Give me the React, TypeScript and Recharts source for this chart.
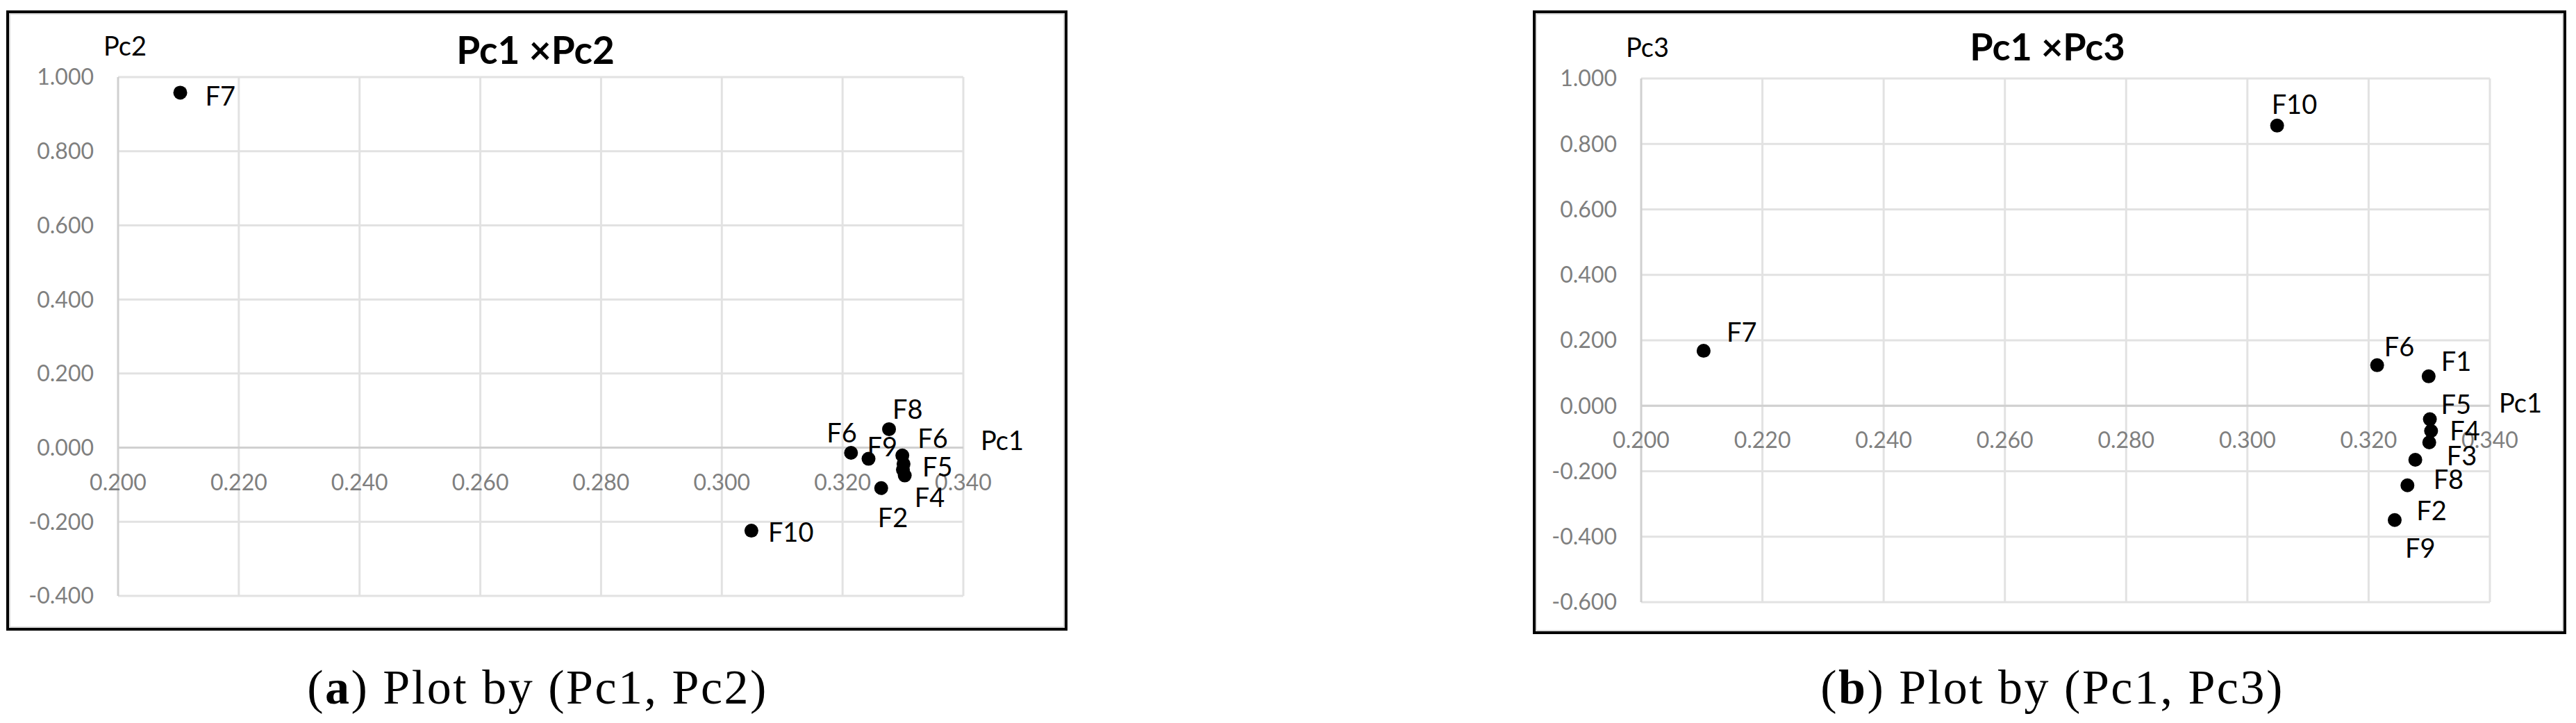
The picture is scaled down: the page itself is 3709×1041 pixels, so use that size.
import React from 'react';
import {
  ScatterChart,
  Scatter,
  XAxis,
  YAxis,
  CartesianGrid,
  ReferenceLine,
  ReferenceDot,
} from 'recharts';

// ---------------- data ----------------
const pointIds = ['F1', 'F2', 'F3', 'F4', 'F5', 'F6', 'F7', 'F8', 'F9', 'F10'];
const pc1Values = [0.3299, 0.3264, 0.33, 0.3303, 0.3301, 0.3214, 0.2103, 0.3277, 0.3243, 0.3049];
const pc2Values = [-0.021, -0.109, -0.06, -0.075, -0.044, -0.014, 0.958, 0.05, -0.03, -0.224];
const pc3Values = [0.09, -0.243, -0.112, -0.077, -0.041, 0.124, 0.168, -0.165, -0.349, 0.856];
// point labels as printed in each plot (the Pc2 plot prints "F6" for F1 and hides F3)
const labelsPlotA = ['F6', 'F2', '', 'F4', 'F5', 'F6', 'F7', 'F8', 'F9', 'F10'];
const labelsPlotB = ['F1', 'F2', 'F3', 'F4', 'F5', 'F6', 'F7', 'F8', 'F9', 'F10'];

const xTicks = [0.2, 0.22, 0.24, 0.26, 0.28, 0.3, 0.32, 0.34];
const yTicksA = [-0.4, -0.2, 0, 0.2, 0.4, 0.6, 0.8, 1.0];
const yTicksB = [-0.6, -0.4, -0.2, 0, 0.2, 0.4, 0.6, 0.8, 1.0];

const titleA = 'Pc1 \u00D7Pc2';
const titleB = 'Pc1 \u00D7Pc3';
const xAxisName = 'Pc1';
const yAxisNameA = 'Pc2';
const yAxisNameB = 'Pc3';
const captionA = { letter: 'a', rest: ' Plot by (Pc1, Pc2)' };
const captionB = { letter: 'b', rest: ' Plot by (Pc1, Pc3)' };

// ---------------- styles / placement ----------------
const SANS = "Lato, 'Open Sans', 'DejaVu Sans', sans-serif";
const SERIF = "'Liberation Serif', 'DejaVu Serif', serif";
const GRID = '#e2e2e2';
const AXIS = '#d0d0d0';
const TICK = '#7f7f7f';

// label offsets [dx, dy(baseline)] relative to the point centre
const placementA: Record<string, [number, number]> = {
  F1: [22, -11], F2: [-5, 56], F3: [0, 0], F4: [14, 45], F5: [27, 18],
  F6: [-35, -15], F7: [36, 19], F8: [5, -15], F9: [-2, -4], F10: [24, 16],
};
const placementB: Record<string, [number, number]> = {
  F1: [18, -8], F2: [13, 50], F3: [25, 33], F4: [27, 13], F5: [16, -8],
  F6: [10, -13], F7: [33, -13], F8: [26, 42], F9: [15, 54], F10: [-8, -17],
};

const buildData = (ys: number[], labels: string[]) =>
  pointIds.map((id, i) => ({ id, x: pc1Values[i], y: ys[i], label: labels[i] }));

const dataA = buildData(pc2Values, labelsPlotA);
const dataB = buildData(pc3Values, labelsPlotB);

const makeShape = (placement: Record<string, [number, number]>) => (props: any) => {
  const { cx, cy, payload } = props;
  const [dx, dy] = placement[payload.id] || [20, 0];
  return (
    <g>
      <circle cx={cx} cy={cy} r={10} fill="#000" />
      {payload.label ? (
        <text x={cx + dx} y={cy + dy} fontFamily={SANS} fontSize={38} fill="#000">
          {payload.label}
        </text>
      ) : null}
    </g>
  );
};

interface PanelProps {
  box: { left: number; top: number; width: number; height: number };
  margin: { top: number; left: number; right: number; bottom: number };
  yAxisWidth: number;
  data: any[];
  yTicks: number[];
  placement: Record<string, [number, number]>;
  yName: string;
  yNameOffset: [number, number];
  xNameOffset: [number, number];
}

const Panel = ({ box, margin, yAxisWidth, data, yTicks, placement, yName, yNameOffset, xNameOffset }: PanelProps) => {
  const yMin = yTicks[0];
  const yMax = yTicks[yTicks.length - 1];
  const xMin = xTicks[0];
  const xMax = xTicks[xTicks.length - 1];
  return (
    <div style={{ position: 'absolute', left: box.left, top: box.top, width: box.width, height: box.height }}>
      <ScatterChart width={box.width} height={box.height} margin={margin}>
        <CartesianGrid stroke={GRID} strokeWidth={3} vertical={false} />
        <XAxis
          type="number"
          dataKey="x"
          domain={[xMin, xMax]}
          ticks={xTicks}
          allowDataOverflow
          tick={false}
          axisLine={false}
          tickLine={false}
          height={1}
        />
        <YAxis
          type="number"
          dataKey="y"
          domain={[yMin, yMax]}
          ticks={yTicks}
          allowDataOverflow
          width={yAxisWidth}
          tickSize={0}
          tickMargin={35}
          tickLine={false}
          axisLine={false}
          tick={{ fill: TICK, fontSize: 32, fontFamily: SANS }}
          tickFormatter={(v: number) => v.toFixed(3)}
        />
        {xTicks.map((t) => (
          <ReferenceLine
            key={`vg-${t}`}
            x={t}
            stroke={t === xMin ? AXIS : GRID}
            strokeWidth={3}
            ifOverflow="visible"
          />
        ))}
        <ReferenceLine y={0} stroke={AXIS} strokeWidth={3} />
        {xTicks.map((t) => (
          <ReferenceDot
            key={`xt-${t}`}
            x={t}
            y={0}
            r={0}
            ifOverflow="visible"
            shape={(p: any) => (
              <text x={p.cx} y={p.cy + 61} textAnchor="middle" fontFamily={SANS} fontSize={32} fill={TICK}>
                {t.toFixed(3)}
              </text>
            )}
          />
        ))}
        <ReferenceDot
          x={xMax}
          y={0}
          r={0}
          ifOverflow="visible"
          shape={(p: any) => (
            <text x={p.cx + xNameOffset[0]} y={p.cy + xNameOffset[1]} fontFamily={SANS} fontSize={38} fill="#000">
              {xAxisName}
            </text>
          )}
        />
        <ReferenceDot
          x={xMin}
          y={yMax}
          r={0}
          ifOverflow="visible"
          shape={(p: any) => (
            <text x={p.cx + yNameOffset[0]} y={p.cy + yNameOffset[1]} fontFamily={SANS} fontSize={38} fill="#000">
              {yName}
            </text>
          )}
        />
        <Scatter data={data} isAnimationActive={false} shape={makeShape(placement)} />
      </ScatterChart>
    </div>
  );
};

const Frame = ({ left, top, width, height }: { left: number; top: number; width: number; height: number }) => (
  <div
    style={{
      position: 'absolute',
      left,
      top,
      width,
      height,
      border: '4px solid #000',
      boxSizing: 'border-box',
    }}
  >
    <div style={{ position: 'absolute', inset: 0, border: '2px solid #d9d9d9' }} />
  </div>
);

export default function App() {
  return (
    <div style={{ position: 'absolute', left: 0, top: 0, width: 3709, height: 1041, background: '#fff', overflow: 'hidden' }}>
      <Frame left={9} top={15} width={1528} height={893} />
      <Frame left={2207} top={15} width={1488} height={898} />
      <Panel
        box={{ left: 0, top: 0, width: 1560, height: 920 }}
        margin={{ top: 111, left: 0, right: 173, bottom: 61 }}
        yAxisWidth={170}
        data={dataA}
        yTicks={yTicksA}
        placement={placementA}
        yName={yAxisNameA}
        yNameOffset={[-21, -31]}
        xNameOffset={[25, 3]}
      />
      <Panel
        box={{ left: 2180, top: 0, width: 1529, height: 920 }}
        margin={{ top: 113, left: 0, right: 124, bottom: 52 }}
        yAxisWidth={183}
        data={dataB}
        yTicks={yTicksB}
        placement={placementB}
        yName={yAxisNameB}
        yNameOffset={[-22, -31]}
        xNameOffset={[13, 10]}
      />
      <svg
        width={3709}
        height={1041}
        style={{ position: 'absolute', left: 0, top: 0, pointerEvents: 'none' }}
      >
        <text x={771} y={92} textAnchor="middle" fontFamily={SANS} fontWeight={700} fontSize={55} fill="#000">
          {titleA}
        </text>
        <text x={2948} y={87} textAnchor="middle" fontFamily={SANS} fontWeight={700} fontSize={54} fill="#000">
          {titleB}
        </text>
        <text x={774} y={1013} textAnchor="middle" fontFamily={SERIF} fontSize={70} letterSpacing={2.5} fill="#000">
          (<tspan fontWeight={700}>{captionA.letter}</tspan>){captionA.rest}
        </text>
        <text x={2955} y={1013} textAnchor="middle" fontFamily={SERIF} fontSize={70} letterSpacing={2.5} fill="#000">
          (<tspan fontWeight={700}>{captionB.letter}</tspan>){captionB.rest}
        </text>
      </svg>
    </div>
  );
}
